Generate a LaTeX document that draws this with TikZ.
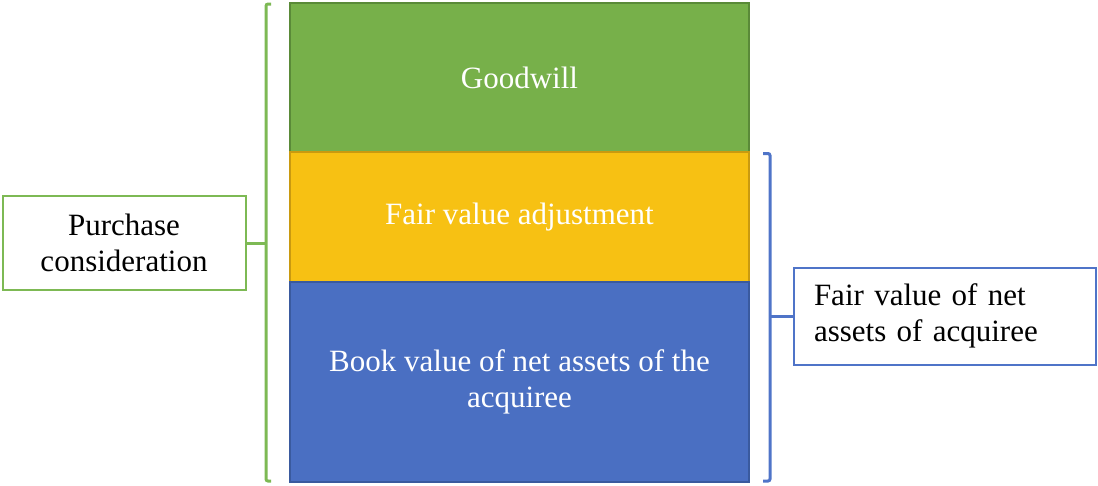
\documentclass[tikz,border=0pt]{standalone}
\usepackage{fontspec}
\setmainfont{Liberation Serif}
\usetikzlibrary{positioning}

\definecolor{gwgreen}{HTML}{77B04A}
\definecolor{gwedge}{HTML}{5A8A38}
\definecolor{fvyellow}{HTML}{F7C113}
\definecolor{fvedge}{HTML}{C99A10}
\definecolor{bvblue}{HTML}{4A6FC2}
\definecolor{bvedge}{HTML}{3A5A9E}
\definecolor{pcgreen}{HTML}{7DB954}
\definecolor{fablue}{HTML}{4F74C8}

\tikzset{
    stackbox/.style={draw, line width=1.5pt, minimum width=459pt, inner sep=0pt,
        text=white, align=center, font=\fontsize{31}{36}\selectfont},
    labelbox/.style={draw, line width=2pt, fill=white, text=black,
        font=\fontsize{31}{36}\selectfont},
    bracket/.style={line width=3pt, rounded corners=2pt}
}

\begin{document}
\begin{tikzpicture}[x=1pt, y=1pt]
        \useasboundingbox (0, 0) rectangle (1098, -485);

        % the three stacked blocks
        \node[stackbox, draw=gwedge, fill=gwgreen, minimum height=149pt] (goodwill) at (519.5, -77.5) {Goodwill};
        \node[stackbox, draw=fvedge, fill=fvyellow, minimum height=130pt] (adjust) at (519.5, -217) {Fair value adjustment};
        \node[stackbox, draw=bvedge, fill=bvblue, minimum height=200pt] (book) at (519.5, -382) {Book value of net assets of the\\acquiree};

        % left label and bracket
        \node[labelbox, draw=pcgreen, minimum width=243pt, minimum height=94pt, align=center] (purchase) at (124, -243) {Purchase\\consideration};
        \coordinate (gtop) at (266, -4);
        \coordinate (gbot) at (266, -481);
        \draw[bracket, pcgreen] ([xshift=5pt]gtop) -- (gtop) -- (gbot) -- ([xshift=5pt]gbot);
        \draw[line width=3pt, pcgreen] (purchase.east) -- (purchase.east -| gtop);

        % right label and bracket
        \node[labelbox, draw=fablue, text width=262pt, inner xsep=20pt, minimum height=97pt, align=left] (fairnet) at (945, -316) {Fair value of net\\assets of acquiree};
        \coordinate (btop) at (770, -153.5);
        \coordinate (bbot) at (770, -481);
        \draw[bracket, fablue] ([xshift=-7pt]btop) -- (btop) -- (bbot) -- ([xshift=-7pt]bbot);
        \draw[line width=3pt, fablue] (fairnet.west) -- (fairnet.west -| btop);
    \end{tikzpicture}
\end{document}
